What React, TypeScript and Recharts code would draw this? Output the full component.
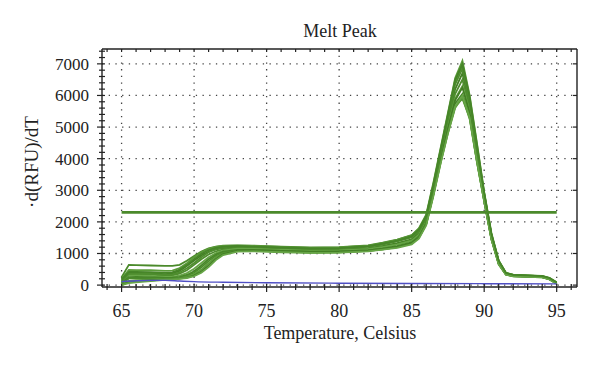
import React from 'react'
import { LineChart, Line, XAxis, YAxis, CartesianGrid, Label } from 'recharts'

// temperatures (°C) at which the melt-peak curves are sampled
const temps = [
  65, 65.5, 66, 67, 68, 68.5, 69, 69.5, 70, 70.5,
  71, 71.5, 72, 73, 74, 76, 78, 80, 82, 83,
  84, 85, 85.5, 86, 86.5, 87, 87.5, 88, 88.5, 89,
  89.5, 90, 90.5, 91, 91.5, 92, 93, 94, 94.5, 95,
]

// -d(RFU)/dT for each sample well
const g1 = [250, 640, 630, 620, 610, 610, 640, 770, 920, 1060, 1160, 1220, 1250, 1260, 1250, 1220, 1190, 1200, 1260, 1340, 1440, 1580, 1780, 2180, 3150, 4250, 5350, 6450, 6950, 5850, 4350, 2900, 1600, 760, 380, 320, 300, 280, 220, 80]
const g2 = [200, 480, 470, 470, 450, 460, 540, 690, 880, 1040, 1150, 1210, 1240, 1250, 1240, 1210, 1180, 1190, 1250, 1330, 1430, 1570, 1800, 2230, 3250, 4350, 5450, 6550, 7100, 6000, 4500, 2950, 1650, 780, 390, 330, 310, 290, 230, 90]
const g3 = [150, 390, 390, 380, 350, 370, 450, 600, 780, 940, 1060, 1130, 1170, 1190, 1170, 1140, 1110, 1120, 1170, 1240, 1330, 1450, 1650, 2080, 3050, 4150, 5200, 6200, 6700, 5700, 4250, 2850, 1580, 740, 370, 310, 295, 275, 210, 70]
const g4 = [120, 340, 345, 335, 300, 310, 360, 470, 640, 820, 970, 1070, 1130, 1170, 1160, 1130, 1100, 1110, 1150, 1210, 1300, 1420, 1610, 2040, 2980, 4050, 5100, 6050, 6500, 5600, 4150, 2800, 1540, 720, 360, 300, 285, 265, 200, 60]
const g5 = [80, 300, 305, 290, 260, 265, 300, 380, 520, 700, 880, 1010, 1090, 1150, 1150, 1120, 1090, 1100, 1140, 1200, 1280, 1400, 1590, 2000, 2950, 4000, 5000, 5900, 6300, 5500, 4050, 2750, 1500, 700, 350, 295, 280, 260, 195, 55]
const g6 = [60, 250, 260, 250, 230, 235, 260, 320, 440, 620, 820, 970, 1060, 1110, 1110, 1080, 1050, 1060, 1100, 1150, 1230, 1350, 1540, 1960, 2900, 3950, 4900, 5750, 6050, 5350, 3950, 2700, 1480, 690, 345, 290, 275, 255, 190, 50]
const g7 = [40, 210, 215, 210, 200, 205, 230, 290, 390, 560, 760, 930, 1030, 1090, 1090, 1060, 1030, 1040, 1080, 1130, 1200, 1320, 1510, 1940, 2880, 3900, 4850, 5650, 5900, 5300, 3900, 2650, 1450, 670, 335, 285, 270, 250, 185, 45]
const g8 = [20, 130, 155, 175, 195, 200, 215, 260, 340, 490, 690, 880, 1000, 1080, 1090, 1060, 1030, 1040, 1080, 1130, 1200, 1310, 1500, 1920, 2850, 3880, 4800, 5600, 5950, 5250, 3900, 2650, 1440, 660, 330, 280, 265, 245, 180, 45]
const g9 = [10, 90, 115, 145, 180, 190, 205, 240, 300, 430, 620, 830, 980, 1090, 1110, 1080, 1060, 1070, 1100, 1150, 1220, 1330, 1500, 1920, 2880, 3950, 4950, 5850, 6250, 5450, 4000, 2700, 1470, 680, 340, 285, 270, 250, 185, 50]
const g10 = [100, 360, 365, 355, 330, 340, 400, 530, 700, 880, 1040, 1140, 1200, 1230, 1210, 1180, 1150, 1160, 1210, 1280, 1380, 1510, 1710, 2120, 3080, 4200, 5300, 6350, 6850, 5800, 4300, 2880, 1590, 750, 375, 315, 300, 280, 215, 75]
const g11 = [0, 60, 90, 130, 170, 180, 195, 225, 280, 390, 570, 790, 950, 1060, 1070, 1040, 1020, 1030, 1070, 1120, 1180, 1290, 1470, 1890, 2820, 3850, 4800, 5650, 6000, 5300, 3920, 2660, 1450, 660, 330, 280, 262, 242, 178, 40]
const g12 = [180, 420, 420, 410, 390, 400, 490, 640, 820, 990, 1110, 1180, 1220, 1240, 1220, 1190, 1160, 1170, 1230, 1310, 1410, 1550, 1760, 2190, 3200, 4300, 5400, 6500, 7000, 5950, 4450, 2920, 1620, 770, 385, 325, 305, 285, 225, 85]

const greenSeries = [g1, g2, g3, g4, g5, g6, g7, g8, g9, g10, g11, g12]
const greenColors = ['#4b8a2b', '#5b9b3a', '#437f25', '#4e8d2e', '#67a547', '#468528']

// no-template control (blue)
const blueTemps = [65, 66, 67, 68, 69, 70, 72, 75, 80, 85, 90, 95]
const blueValues = [110, 140, 150, 150, 130, 110, 90, 75, 60, 50, 45, 40]

// threshold
const thresholdTemps = [65, 95]
const thresholdValue = 2300

const xMajor = [65, 70, 75, 80, 85, 90, 95]
const xMinor = [64, 65, 66, 67, 68, 69, 70, 71, 72, 73, 74, 75, 76, 77, 78, 79, 80, 81, 82, 83, 84, 85, 86, 87, 88, 89, 90, 91, 92, 93, 94, 95, 96]
const yMajor = [0, 1000, 2000, 3000, 4000, 5000, 6000, 7000]
const yMinor = [0, 200, 400, 600, 800, 1000, 1200, 1400, 1600, 1800, 2000, 2200, 2400, 2600, 2800, 3000, 3200, 3400, 3600, 3800, 4000, 4200, 4400, 4600, 4800, 5000, 5200, 5400, 5600, 5800, 6000, 6200, 6400, 6600, 6800, 7000, 7200, 7400]

const rows = temps.map((t, i) => {
  const row: Record<string, number> = { t }
  greenSeries.forEach((s, k) => {
    row[`g${k}`] = s[i]
  })
  return row
})
const blueData = blueTemps.map((t, i) => ({ t, v: blueValues[i] }))
const thresholdData = thresholdTemps.map((t) => ({ t, v: thresholdValue }))

const FONT = '"Liberation Serif", "Times New Roman", serif'
const INK = '#222'

// eslint-disable-next-line @typescript-eslint/no-explicit-any
const BottomTick = ({ x, y, payload }: any) => {
  const major = payload.value % 5 === 0
  return (
    <g>
      <line x1={x} x2={x} y1={y - 3} y2={y + (major ? 5 : 3)} stroke={INK} strokeWidth={1.2} />
      {major && (
        <text x={x} y={y + 30} textAnchor="middle" fontFamily={FONT} fontSize={18} fill={INK}>
          {payload.value}
        </text>
      )}
    </g>
  )
}

// eslint-disable-next-line @typescript-eslint/no-explicit-any
const LeftTick = ({ x, y, payload }: any) => {
  const major = payload.value % 1000 === 0
  return (
    <g>
      <line x1={x - (major ? 5 : 3)} x2={x + 3} y1={y} y2={y} stroke={INK} strokeWidth={1.2} />
      {major && (
        <text x={x - 13} y={y + 6} textAnchor="end" fontFamily={FONT} fontSize={17} fill={INK}>
          {payload.value}
        </text>
      )}
    </g>
  )
}

// eslint-disable-next-line @typescript-eslint/no-explicit-any
const TopTick = ({ x, y }: any) => (
  <line x1={x} x2={x} y1={y} y2={y + 3} stroke={INK} strokeWidth={1.2} />
)

// eslint-disable-next-line @typescript-eslint/no-explicit-any
const RightTick = ({ x, y }: any) => (
  <line x1={x - 4} x2={x} y1={y} y2={y} stroke={INK} strokeWidth={1.2} />
)

const xDomain = [63.65, 96.4]
const yDomain = [-60, 7470]

export default function App() {
  return (
    <div style={{ position: 'absolute', left: 0, top: 0, width: 600, height: 368, background: '#fff' }}>
      <LineChart width={600} height={368} data={rows} margin={{ top: 48, right: 22, left: 0, bottom: 0 }}>
        <CartesianGrid
          verticalValues={xMajor}
          horizontalValues={yMajor}
          stroke="#444"
          strokeWidth={1.3}
          strokeDasharray="1.3 5.4"
        />
        <XAxis
          dataKey="t"
          type="number"
          domain={xDomain}
          allowDataOverflow
          ticks={xMinor}
          interval={0}
          height={81}
          tickSize={0}
          tickMargin={0}
          tickLine={false}
          tick={<BottomTick />}
          axisLine={{ stroke: INK, strokeWidth: 1.4 }}
        >
          <Label
            content={() => (
              <text x={340} y={339} textAnchor="middle" fontFamily={FONT} fontSize={18} fill={INK}>
                Temperature, Celsius
              </text>
            )}
          />
        </XAxis>
        <XAxis
          xAxisId="top"
          dataKey="t"
          orientation="top"
          type="number"
          domain={xDomain}
          allowDataOverflow
          ticks={xMinor}
          interval={0}
          height={1}
          tickSize={0}
          tickMargin={0}
          tickLine={false}
          tick={<TopTick />}
          axisLine={{ stroke: INK, strokeWidth: 1.4 }}
        >
          <Label
            content={() => (
              <text x={340} y={37} textAnchor="middle" fontFamily={FONT} fontSize={18} fill={INK}>
                Melt Peak
              </text>
            )}
          />
        </XAxis>
        <YAxis
          type="number"
          domain={yDomain}
          allowDataOverflow
          ticks={yMinor}
          interval={0}
          width={102}
          tickSize={0}
          tickMargin={0}
          tickLine={false}
          tick={<LeftTick />}
          axisLine={{ stroke: INK, strokeWidth: 1.4 }}
        >
          <Label
            content={() => (
              <text
                x={31}
                y={162}
                transform="rotate(-90 31 162)"
                textAnchor="middle"
                dominantBaseline="central"
                fontFamily={FONT}
                fontSize={19}
                fill={INK}
              >
                ·d(RFU)/dT
              </text>
            )}
          />
        </YAxis>
        <YAxis
          yAxisId="right"
          orientation="right"
          type="number"
          domain={yDomain}
          allowDataOverflow
          ticks={yMajor}
          interval={0}
          width={1}
          tickSize={0}
          tickMargin={0}
          tickLine={false}
          tick={<RightTick />}
          axisLine={{ stroke: INK, strokeWidth: 1.4 }}
        />
        {greenSeries.map((_, k) => (
          <Line
            key={k}
            dataKey={`g${k}`}
            type="linear"
            stroke={greenColors[k % greenColors.length]}
            strokeWidth={1.8}
            dot={false}
            activeDot={false}
            isAnimationActive={false}
          />
        ))}
        <Line
          data={thresholdData}
          xAxisId="top"
          yAxisId="right"
          dataKey="v"
          type="linear"
          stroke="#4b8a2b"
          strokeWidth={2.6}
          dot={false}
          activeDot={false}
          isAnimationActive={false}
        />
        <Line
          data={blueData}
          dataKey="v"
          type="monotone"
          stroke="#4f4fc4"
          strokeWidth={1.4}
          dot={false}
          activeDot={false}
          isAnimationActive={false}
        />
      </LineChart>
    </div>
  )
}
